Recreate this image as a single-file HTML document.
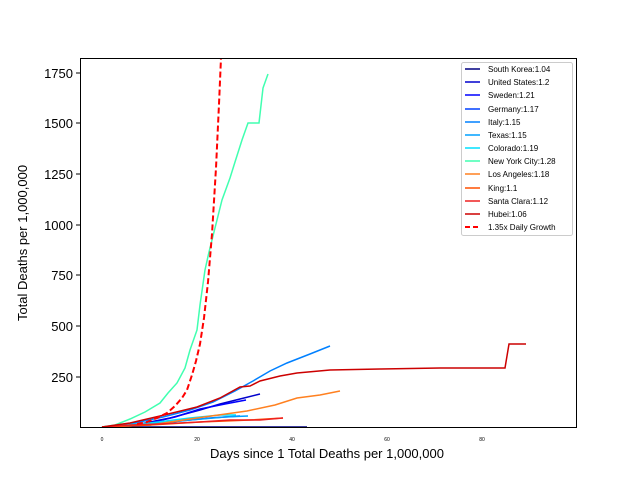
<!DOCTYPE html>
<html><head><style>body{margin:0;background:#fff}svg{display:block}</style></head><body>
<svg width="640" height="480" xmlns="http://www.w3.org/2000/svg" font-family="Liberation Sans, DejaVu Sans, sans-serif">
<rect width="640" height="480" fill="#fff"/>
<defs><clipPath id="c"><rect x="80" y="58" width="496" height="369"/></clipPath></defs>
<g clip-path="url(#c)" fill="none" stroke-width="1.5">
<polyline stroke="#000080" points="102,427 307,427"/>
<polyline stroke="#0000cc" points="102,427 140,424 170,418 200,410 220,404 240,399 260,394"/>
<polyline stroke="#0000ff" points="102,427 145,424 175,417 200,409 225,404 246,400"/>
<polyline stroke="#0040ff" points="102,427 150,425 180,421 210,418 240,416"/>
<polyline stroke="#0080ff" points="102,427 130,424 163,417 190,410 213,402 235,391 253,381 270,371 287,363 310,354 330,346"/>
<polyline stroke="#00a0ff" points="102,427 150,424 190,420 225,417 248,416"/>
<polyline stroke="#00e0ff" points="102,427 150,423 190,418 220,415 236,415"/>
<polyline stroke="#40ffb0" points="102,427 115,425 130,419 145,412 160,403 168,393 177,383 185,368 190,350 197,330 200,305 205,270 209,252 215,228 222,200 230,178 235,162 242,140 248,123 259,123 263,88 268,74"/>
<polyline stroke="#ff8020" points="102,427 150,425 197,418 247,411 275,405 297,398 320,395 340,391"/>
<polyline stroke="#ff5000" points="102,427 150,425 200,422 250,420 283,418"/>
<polyline stroke="#ee2020" points="102,427 130,425 160,424 180,423 200,422 230,420 260,420 283,418"/>
<polyline stroke="#cc0000" points="102,427 130,423 160,416 197,407 220,398 240,387 250,386 260,381 280,376 297,373 330,370 380,369 440,368 505,368 509,344 526,344"/>
<polyline stroke="#ff0000" stroke-width="2" stroke-dasharray="6,3" points="137,424 147,422 157,418 167,413 175,406 182,398 187,390 192,375 196,361 200,344 204,318 208,282 212,234 216,168 219,104 221,58"/>
</g>
<rect x="80.5" y="58.5" width="496" height="369" fill="none" stroke="#000" stroke-width="1"/>
<g font-size="13" text-anchor="end" fill="#000">
<text x="73" y="382">250</text><text x="73" y="331">500</text><text x="73" y="280">750</text><text x="73" y="230">1000</text><text x="73" y="179">1250</text><text x="73" y="128">1500</text><text x="73" y="78">1750</text>
</g>
<g stroke="#000"><line x1="76" y1="377" x2="80" y2="377"/><line x1="76" y1="326" x2="80" y2="326"/><line x1="76" y1="275" x2="80" y2="275"/><line x1="76" y1="225" x2="80" y2="225"/><line x1="76" y1="174" x2="80" y2="174"/><line x1="76" y1="123" x2="80" y2="123"/><line x1="76" y1="73" x2="80" y2="73"/></g>
<g font-size="5" text-anchor="middle"><text x="102" y="441">0</text><text x="197" y="441">20</text><text x="292" y="441">40</text><text x="387" y="441">60</text><text x="482" y="441">80</text></g>
<text x="327" y="458" font-size="13" text-anchor="middle">Days since 1 Total Deaths per 1,000,000</text>
<text transform="translate(27,243) rotate(-90)" font-size="13" text-anchor="middle">Total Deaths per 1,000,000</text>
<rect x="461.5" y="62.5" width="111" height="173" fill="#fff" stroke="#ccc" rx="2"/>
<g font-size="8" fill="#000">
<g stroke-width="1.5">
<line x1="465" x2="480" y1="69" y2="69" stroke="#000080"/><line x1="465" x2="480" y1="82" y2="82" stroke="#0000cc"/><line x1="465" x2="480" y1="95" y2="95" stroke="#0000ff"/><line x1="465" x2="480" y1="109" y2="109" stroke="#0040ff"/><line x1="465" x2="480" y1="122" y2="122" stroke="#0080ff"/><line x1="465" x2="480" y1="135" y2="135" stroke="#00a0ff"/><line x1="465" x2="480" y1="148" y2="148" stroke="#00e0ff"/><line x1="465" x2="480" y1="161" y2="161" stroke="#40ffb0"/><line x1="465" x2="480" y1="174" y2="174" stroke="#ff8020"/><line x1="465" x2="480" y1="188" y2="188" stroke="#ff5000"/><line x1="465" x2="480" y1="201" y2="201" stroke="#ee2020"/><line x1="465" x2="480" y1="214" y2="214" stroke="#cc0000"/><line x1="465" x2="480" y1="227" y2="227" stroke="#ff0000" stroke-width="2" stroke-dasharray="5,3"/>
</g>
<text x="488" y="72">South Korea:1.04</text><text x="488" y="85">United States:1.2</text><text x="488" y="98">Sweden:1.21</text><text x="488" y="112">Germany:1.17</text><text x="488" y="125">Italy:1.15</text><text x="488" y="138">Texas:1.15</text><text x="488" y="151">Colorado:1.19</text><text x="488" y="164">New York City:1.28</text><text x="488" y="177">Los Angeles:1.18</text><text x="488" y="191">King:1.1</text><text x="488" y="204">Santa Clara:1.12</text><text x="488" y="217">Hubei:1.06</text><text x="488" y="230">1.35x Daily Growth</text>
</g>
</svg>
</body></html>
